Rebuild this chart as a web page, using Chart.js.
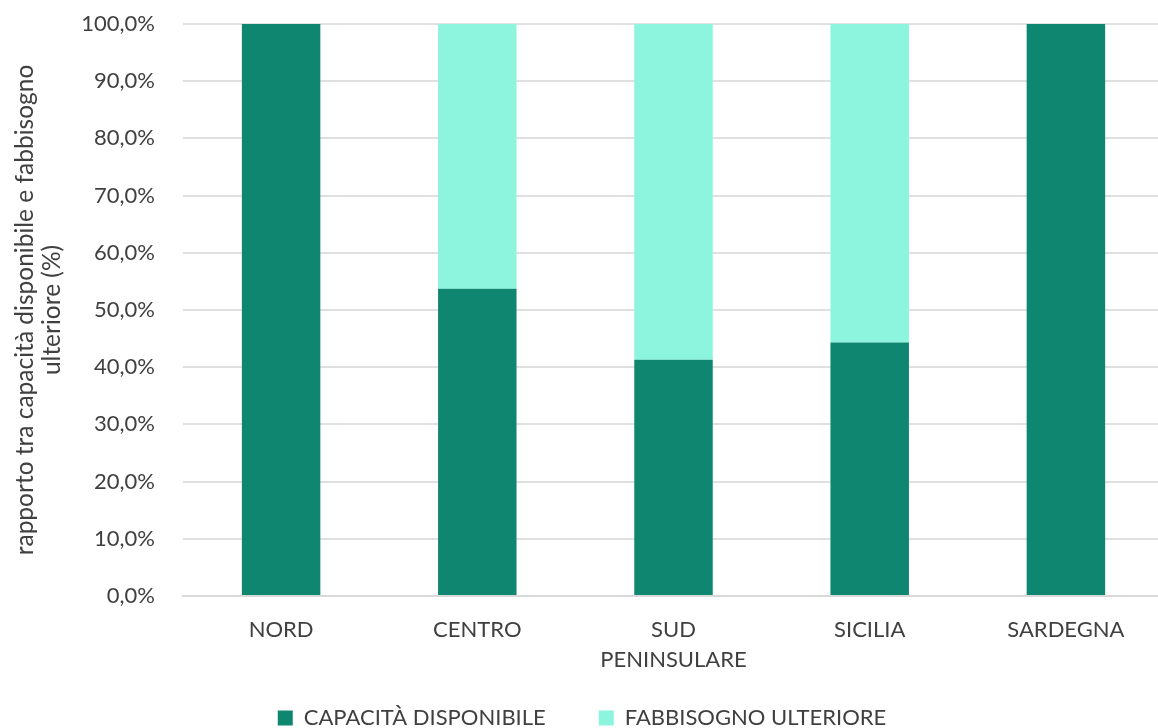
<!DOCTYPE html>
<html>
<head>
<meta charset="utf-8">
<script src="https://cdn.jsdelivr.net/npm/chart.js@4/dist/chart.umd.min.js"></script>
<style>
html,body{margin:0;padding:0;background:#fff;overflow:hidden;}
canvas{display:block;}
</style>
</head>
<body>
<canvas id="c" width="1164" height="728"></canvas>
<script>
const categories = ['NORD', 'CENTRO', ['SUD', 'PENINSULARE'], 'SICILIA', 'SARDEGNA'];
const capacitaDisponibile = [100, 53.7, 41.3, 44.3, 100];
const fabbisognoUlteriore = [0, 46.3, 58.7, 55.7, 0];
const seriesNames = ['CAPACITÀ DISPONIBILE', 'FABBISOGNO ULTERIORE'];
const yTitle = ['rapporto tra capacità disponibile e fabbisogno', 'ulteriore (%)'];

const FONT = 'Lato';
const TXT = '#404040';

new Chart(document.getElementById('c'), {
  type: 'bar',
  data: {
    labels: categories,
    datasets: [
      { label: seriesNames[0], data: capacitaDisponibile, backgroundColor: '#0E8670', borderWidth: 0 },
      { label: seriesNames[1], data: fabbisognoUlteriore, backgroundColor: '#8DF5DE', borderWidth: 0 }
    ]
  },
  options: {
    responsive: false,
    devicePixelRatio: 1,
    animation: false,
    datasets: { bar: { categoryPercentage: 1, barPercentage: 0.4 } },
    layout: { padding: { top: 24, right: 0, bottom: -11, left: 0 } },
    plugins: {
      tooltip: { enabled: false },
      legend: {
        position: 'bottom',
        labels: {
          boxWidth: 15, boxHeight: 15, padding: 53,
          color: TXT,
          font: { family: FONT, size: 22 }
        }
      }
    },
    scales: {
      x: {
        stacked: true,
        grid: { display: false, drawTicks: false },
        border: { display: true, color: '#d9d9d9', width: 2 },
        ticks: {
          color: TXT, padding: 19, maxRotation: 0, autoSkip: false,
          font: { family: FONT, size: 22, lineHeight: 1.36 }
        },
        afterFit: s => { s.height = 58; s._computeLabelArea = () => undefined; }
      },
      y: {
        stacked: true,
        min: 0, max: 100,
        grid: { color: '#e0e0e0', lineWidth: 2, drawTicks: false },
        border: { display: false },
        ticks: {
          stepSize: 10, color: TXT, padding: 28,
          font: { family: FONT, size: 22 },
          callback: v => v.toFixed(1).replace('.', ',') + '%'
        },
        title: {
          display: true, text: yTitle, color: TXT,
          padding: { top: 11.5, bottom: 0 },
          font: { family: FONT, size: 24.5, lineHeight: 1.1 }
        },
        afterFit: s => { s.width = 183; s.paddingTop = 0; s.paddingBottom = 0; }
      }
    }
  }
});
</script>
</body>
</html>
